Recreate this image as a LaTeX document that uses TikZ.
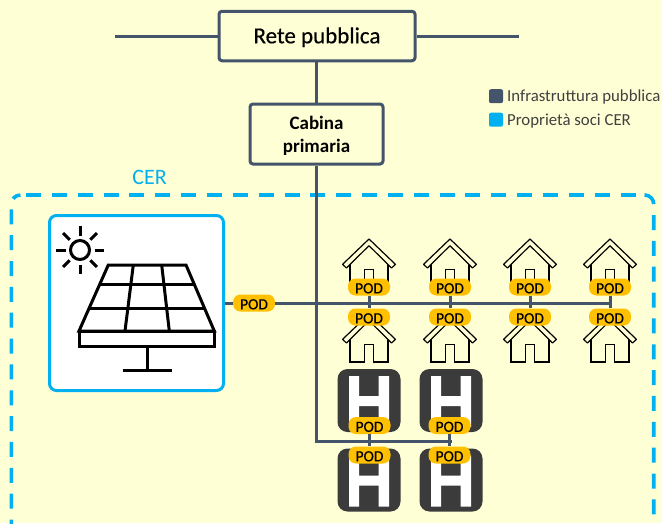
\documentclass[tikz,border=0pt]{standalone}
\usepackage{fontspec}
\setmainfont{Carlito}
\newfontfamily\heavyfont[FakeBold=0.35]{Carlito}
\usepackage{tikz}
\usetikzlibrary{calc}
\definecolor{bgyellow}{HTML}{FFFFD5}
\definecolor{gridblue}{HTML}{44546A}
\definecolor{cerblue}{HTML}{00B0F0}
\definecolor{podgold}{HTML}{FFC000}
\definecolor{hdark}{HTML}{3B3B3B}
\tikzset{
  grid/.style={draw=gridblue,line width=3pt},
  netbox/.style={draw=gridblue,line width=3pt,fill=bgyellow,rounded corners=3pt,align=center,inner sep=0pt},
  pod/.style={fill=podgold,rounded corners=7.5pt,minimum width=42pt,minimum height=17pt,inner sep=0pt,text height=12.6pt,text depth=0pt,font=\heavyfont\fontsize{15.5}{15.5}\selectfont},
  zone/.style={cerblue,line width=3.6pt,dash pattern=on 15pt off 10.85pt,rounded corners=9pt},
  legendbox/.style={minimum size=14pt,inner sep=0pt,rounded corners=2pt},
  legendtext/.style={anchor=base west,inner sep=0pt,text=black!75,font=\fontsize{16.8}{16.8}\selectfont},
  house/.pic={
    \draw[line width=1.2pt,fill=bgyellow] (-19,22) -- (-19,48) -- (-4.2,48) -- (-4.2,30.5) -- (4.2,30.5) -- (4.2,48) -- (19,48) -- (19,22);
    \draw[line width=1.2pt,fill=bgyellow,line join=round] (0,0) -- (26.4,25.3) -- (22.6,29) -- (0,6.7) -- (-22.6,29) -- (-26.4,25.3) -- cycle;
  },
  hbuild/.pic={
    \fill[hdark,rounded corners=10pt] (0,0) rectangle (63,63);
    \fill[white] (11.5,7) rectangle (21.5,58) (41,7) rectangle (51.5,58) (21,27) rectangle (42,37);
  },
}
\begin{document}
\begin{tikzpicture}[x=1pt,y=-1pt]
  \useasboundingbox (0,0) rectangle (662,523);
  \clip (0,0) rectangle (662,523);
  \fill[bgyellow] (0,0) rectangle (662,523);

  % zone
  \draw[zone] (26,195) -- (640,195);
  \draw[zone] (645.5,195) -- (653.7,195) -- (653.7,545);
  \draw[zone,dash phase=6.5pt] (20.4,195) -- (11.4,195) -- (11.4,545);
  \draw (149.7,184.3) node[anchor=base,inner sep=0pt,text=cerblue,font=\fontsize{22}{22}\selectfont] (cer) {CER};

  % legend
  \draw (496,96.2) node[legendbox,fill=gridblue] (keygrid) {};
  \draw (496,119.7) node[legendbox,fill=cerblue] (keycer) {};
  \draw (507,101.7) node[legendtext] (keygridtext) {Infrastruttura pubblica};
  \draw (507,125) node[legendtext] (keycertext) {Proprietà soci CER};

  % coordinates of the network
  \coordinate (topleft) at (115,36);
  \coordinate (topright) at (519,36);
  \coordinate (corner) at (316,441);
  \coordinate (lineend) at (610,303);
  \coordinate (hline) at (450,441);

  \draw (317,36) node[netbox,minimum width=196pt,minimum height=49.5pt,text height=18pt,text depth=3.4pt,font=\heavyfont\fontsize{23}{23}\selectfont] (rete) {Rete pubblica};
  \draw (316.5,134) node[netbox,minimum width=133pt,minimum height=60pt] (cabina) {};
  \draw (316.5,136) node[align=center,inner sep=0pt,font=\fontsize{19}{23}\selectfont\bfseries] (cabinatext) {Cabina\\primaria};

  % solar panel
  \draw (136.5,303) node[draw=cerblue,fill=white,line width=3pt,rounded corners=7pt,minimum width=174pt,minimum height=175pt] (solar) {};
  \begin{scope}[line width=3pt]
    \draw (80,250) circle (9.5);
    \foreach \ang in {0,45,...,315}
      \draw ($(80,250)+(\ang:14.5)$) -- ($(80,250)+(\ang:24)$);
    \draw (108.3,265) -- (186,265) -- (214.3,331) -- (79,331) -- cycle;
    \draw (79,331) rectangle (214.3,346.7);
    \draw (99.9,284) -- (194.1,284);
    \draw (89.1,308.3) -- (204.6,308.3);
    \draw (133.3,265) -- (125,331);
    \draw (161.7,265) -- (169.3,331);
    \draw (147,346.7) -- (147,370);
    \draw (122.7,370) -- (171.7,370);
  \end{scope}

  % houses and buildings
  \foreach \hx in {369,450,530,610} {
    \pic at (\hx,239) {house};
    \pic at (\hx,314) {house};
  }
  \foreach \hx in {337.5,419.5} {
    \pic at (\hx,369) {hbuild};
    \pic at (\hx,448.5) {hbuild};
  }

  % pods
  \draw (254,303) node[pod] (podsolar) {POD};
  \draw (369,287) node[pod] (poda) {POD};
  \draw (450,287) node[pod] (podb) {POD};
  \draw (530,287) node[pod] (podc) {POD};
  \draw (610,287) node[pod] (podd) {POD};
  \draw (369,317) node[pod] (pode) {POD};
  \draw (450,317) node[pod] (podf) {POD};
  \draw (530,317) node[pod] (podg) {POD};
  \draw (610,317) node[pod] (podh) {POD};
  \draw (369.5,425.5) node[pod] (podi) {POD};
  \draw (449.5,425.5) node[pod] (podj) {POD};
  \draw (369.5,455) node[pod] (podk) {POD};
  \draw (449.5,455) node[pod] (podl) {POD};

  % connectors
  \path[grid] (topleft) edge (rete) (rete) edge (topright);
  \path[grid] (rete.south -| corner) edge (cabina.north -| corner);
  \path[grid] (cabina.south -| corner) edge (corner);
  \path[grid] (solar) edge (podsolar);
  \path[grid] (podsolar) edge (lineend);
  \path[grid,line cap=rect] (corner) edge (hline);
  \path[grid] (poda) edge (pode) (podb) edge (podf) (podc) edge (podg) (podd) edge (podh);
  \path[grid] (podi) edge (podk) (podj) edge (podl);
\end{tikzpicture}
\end{document}
